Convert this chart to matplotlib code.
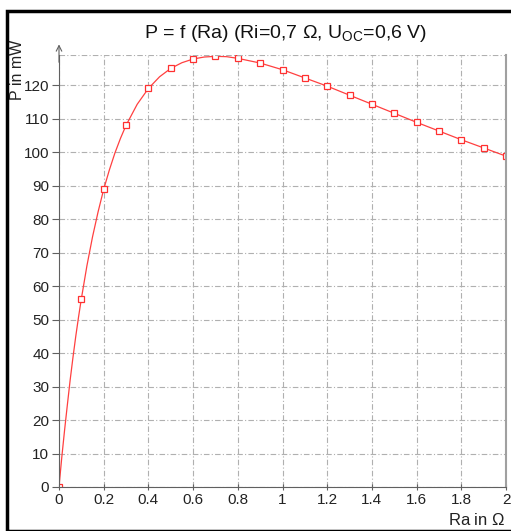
import numpy as np
import matplotlib.pyplot as plt
from matplotlib.patches import Rectangle

# values
ra_pts = [0.0, 0.1, 0.2, 0.3, 0.4, 0.5, 0.6, 0.7, 0.8, 0.9, 1.0,
          1.1, 1.2, 1.3, 1.4, 1.5, 1.6, 1.7, 1.8, 1.9, 2.0]
p_pts = [0.0, 56.2, 88.9, 108.0, 119.0, 125.0, 127.8, 128.6, 128.0, 126.6, 124.6,
         122.2, 119.7, 117.0, 114.3, 111.6, 108.9, 106.2, 103.7, 101.2, 98.8]
# extra points (it is smooth between markers)
ra_curve = [0.0, 0.0125, 0.025, 0.0375, 0.05, 0.0625, 0.075, 0.0875, 0.1, 0.125, 0.15,
            0.175, 0.2, 0.225, 0.25, 0.275, 0.3, 0.35, 0.4, 0.45, 0.5, 0.55, 0.6,
            0.65, 0.7, 0.75, 0.8, 0.9, 1.0, 1.2, 1.4, 1.6, 1.8, 2.0]
p_curve = [0.0, 8.9, 17.0, 24.6, 32.0, 38.7, 45.0, 50.8, 56.2, 66.1, 74.7,
           82.2, 88.9, 94.6, 99.7, 104.1, 108.0, 114.3, 119.0, 122.5, 125.0, 126.7, 127.8,
           128.4, 128.6, 128.5, 128.0, 126.6, 124.6, 119.7, 114.3, 108.9, 103.7, 98.8]

xticks = [0, 0.2, 0.4, 0.6, 0.8, 1, 1.2, 1.4, 1.6, 1.8, 2]
xticklabels = ['0', '0.2', '0.4', '0.6', '0.8', '1', '1.2', '1.4', '1.6', '1.8', '2']
yticks = list(range(0, 130, 10))

plt.rcParams['font.family'] = ['Liberation Sans', 'DejaVu Sans']
plt.rcParams['mathtext.fontset'] = 'custom'
plt.rcParams['mathtext.rm'] = 'Liberation Sans'

fig = plt.figure(figsize=(5.11, 5.31), dpi=100)
# outer black frame
fig.patches.append(Rectangle((7/511, 0), 1.2, 1 - 11/531, transform=fig.transFigure,
                             fill=False, edgecolor='black', linewidth=2.5))

ax = fig.add_axes([59/511, 1 - 487/531, (506 - 59)/511, (487 - 55)/531])
ax.set_xlim(0, 2)
ax.set_ylim(0, 129)

ax.plot(ra_curve, p_curve, color='#ff4040', linewidth=0.9)
ax.plot(ra_pts, p_pts, linestyle='none', marker='s', markersize=4.8,
        markerfacecolor='white', markeredgecolor='#ff3030', markeredgewidth=0.9)

ax.set_xticks(xticks)
ax.set_xticklabels(xticklabels)
ax.set_yticks(yticks)
ax.grid(True, color='#b0b0b0', linestyle=(0, (5, 2, 1, 2)), linewidth=0.8)
ax.set_axisbelow(True)

ax.spines['top'].set_visible(False)
ax.axhline(129, color='#b0b0b0', linestyle=(0, (5, 2, 1, 2)), linewidth=0.8)
ax.spines['right'].set_color('#a0a0a0')
ax.spines['right'].set_linewidth(1.5)
ax.spines['left'].set_color('#606060')
ax.spines['bottom'].set_color('#606060')
ax.tick_params(axis='both', colors='#606060', labelcolor='#222222', labelsize=11,
               length=5, width=0.8, pad=2)
ax.tick_params(axis='x', direction='inout')
ax.tick_params(axis='y', direction='out')

# axis arrow on y
ax.annotate('', xy=(0, 133), xytext=(0, 126), xycoords='data', annotation_clip=False,
            arrowprops=dict(arrowstyle='->', color='#606060', lw=0.8))

fig.text(286/511, 1 - 33/531, r'P = f (Ra) (Ri=0,7 $\Omega$, U$_{\mathrm{OC}}$=0,6 V)',
         ha='center', va='center', fontsize=14, color='#111111')
fig.text(17/511, 1 - 70/531, 'P in mW', rotation=90, ha='center', va='center',
         fontsize=11.5, color='#222222')
fig.text(505/511, 1 - 520/531, r'Ra in $\Omega$', ha='right', va='center',
         fontsize=12, color='#222222')

plt.savefig('out.png', dpi=100)
